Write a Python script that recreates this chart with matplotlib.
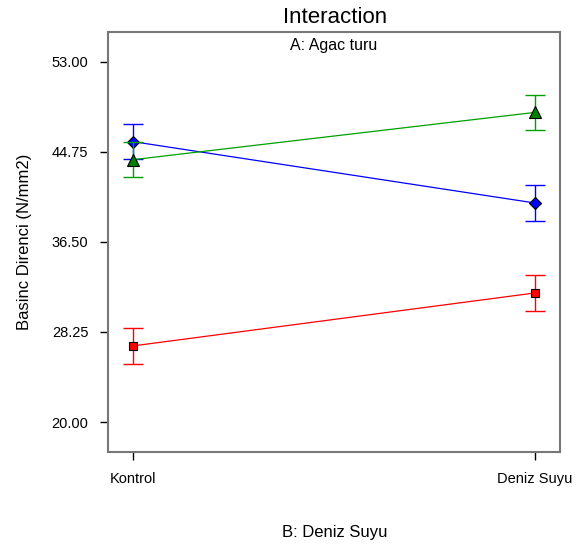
import matplotlib
matplotlib.use("Agg")
import matplotlib.pyplot as plt

plt.rcParams['font.family'] = ['Liberation Sans', 'DejaVu Sans']

# data
levels = ["Kontrol", "Deniz Suyu"]
blue_vals = [45.67, 40.05]
green_vals = [44.02, 48.35]
red_vals = [26.97, 31.82]
err = 1.62
y_ticks = [20.00, 28.25, 36.50, 44.75, 53.00]

fig = plt.figure(figsize=(5.77, 5.44), dpi=100)
ax = fig.add_axes([0.187, 0.169, 0.784, 0.772])

x = list(range(len(levels)))
series = [
    (blue_vals, 'blue', 'D', 6),
    (green_vals, '#00a000', '^', 8),
    (red_vals, 'red', 's', 6),
]
for vals, col, mk, ms in series:
    ax.plot(x, vals, color=col, linewidth=0.9)
    ax.errorbar(x, vals, yerr=err, fmt='none', ecolor=col, elinewidth=1.0,
                capsize=7, capthick=1.0)
    # marker face in the line colour (darker green for triangle)
    face = '#008000' if mk == '^' else col
    ax.plot(x, vals, linestyle='none', marker=mk, markersize=ms,
            markerfacecolor=face, markeredgecolor='black', markeredgewidth=0.8)

ax.set_xlim(-0.0625, 1.0625)
ax.set_ylim(17.25, 55.7)
ax.set_xticks(x)
ax.set_xticklabels(levels, fontsize=10.5)
ax.set_yticks(y_ticks)
ax.set_yticklabels([f"{v:.2f}" for v in y_ticks], fontsize=10.5)
ax.tick_params(direction='out', length=6, width=1, pad=8)

for s in ax.spines.values():
    s.set_color('#777777')
    s.set_linewidth(1.5)

ax.set_ylabel("Basinc Direnci (N/mm2)", fontsize=12, labelpad=14)
fig.text(0.58, 1 - 533 / 544, "B: Deniz Suyu", ha='center', va='center', fontsize=12)
fig.text(0.58, 0.967, "Interaction", ha='center', va='center', fontsize=16)
ax.text(0.5, 0.985, "A: Agac turu", transform=ax.transAxes, ha='center',
        va='top', fontsize=11.5)

fig.savefig("out.png", dpi=100)
